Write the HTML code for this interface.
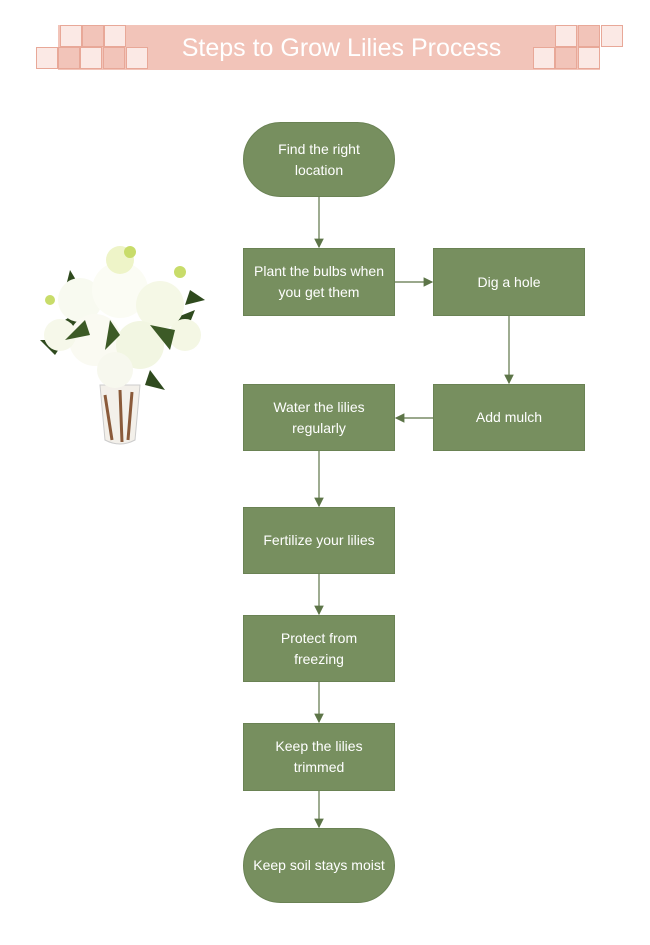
<!DOCTYPE html>
<html><head><style>
body{margin:0;background:#fff;width:650px;height:945px;position:relative;overflow:hidden;font-family:"Comic Sans MS","Liberation Sans",sans-serif}
.b{position:absolute;background:#778f5f;color:#fff;font-size:14px;display:flex;align-items:center;justify-content:center;text-align:center;line-height:21px;box-sizing:border-box;border:1px solid #6a8254}
.sq{position:absolute;width:22px;height:22px;box-sizing:border-box;border:1px solid #e8a898}
.l{background:#fbe9e5}.p{background:#f2c4b9}
</style></head><body>
<div style="position:absolute;left:58px;top:25px;width:542px;height:45px;background:#f2c4b9"></div>
<div class="sq l" style="left:60px;top:25px"></div><div class="sq p" style="left:82px;top:25px"></div><div class="sq l" style="left:104px;top:25px"></div>
<div class="sq l" style="left:36px;top:47px"></div><div class="sq p" style="left:58px;top:47px"></div><div class="sq l" style="left:80px;top:47px"></div><div class="sq p" style="left:103px;top:47px"></div><div class="sq l" style="left:126px;top:47px"></div>
<div class="sq l" style="left:555px;top:25px"></div><div class="sq p" style="left:578px;top:25px"></div><div class="sq l" style="left:601px;top:25px"></div>
<div class="sq l" style="left:533px;top:47px"></div><div class="sq p" style="left:555px;top:47px"></div><div class="sq l" style="left:578px;top:47px"></div>
<div style="position:absolute;left:150px;top:30px;width:383px;text-align:center;color:#fff;font-size:25px;line-height:36px">Steps to Grow Lilies Process</div>

<svg style="position:absolute;left:0;top:0" width="650" height="945">
<defs><marker id="a" markerWidth="8" markerHeight="8" refX="7" refY="4" orient="auto"><path d="M0,0L8,4L0,8z" fill="#5d7548"/></marker></defs>
<g stroke="#5d7548" stroke-width="1.2" fill="none" marker-end="url(#a)">
<line x1="319" y1="197" x2="319" y2="247"/>
<line x1="395" y1="282" x2="432" y2="282"/>
<line x1="509" y1="316" x2="509" y2="383"/>
<line x1="433" y1="418" x2="396" y2="418"/>
<line x1="319" y1="451" x2="319" y2="506"/>
<line x1="319" y1="574" x2="319" y2="614"/>
<line x1="319" y1="682" x2="319" y2="722"/>
<line x1="319" y1="791" x2="319" y2="827"/>
</g>
<g>
<path d="M100,385 L140,385 L135,440 Q120,448 105,440Z" fill="#f3f0ea" stroke="#ccc"/>
<path d="M105,395 L112,440 M120,390 L122,442 M132,392 L128,440" stroke="#8a5a3a" stroke-width="3"/>
<path d="M50,330 l30,-20 l-5,25z M170,320 l25,-10 l-10,25z M70,270 l15,25 l-20,-5z M150,370 l15,20 l-20,-5z M40,340 l25,0 l-10,15z M190,290 l15,10 l-20,5z" fill="#2f4a1e"/>
<circle cx="80" cy="300" r="22" fill="#f8faf0"/><circle cx="120" cy="290" r="28" fill="#fbfcf4"/><circle cx="160" cy="305" r="24" fill="#f5f8e6"/>
<circle cx="95" cy="340" r="26" fill="#fafaf2"/><circle cx="140" cy="345" r="24" fill="#f2f6e2"/><circle cx="60" cy="335" r="16" fill="#f6f8ea"/>
<circle cx="185" cy="335" r="16" fill="#f4f7e4"/><circle cx="115" cy="370" r="18" fill="#f7f8ee"/><circle cx="120" cy="260" r="14" fill="#eef4c8"/>
<path d="M85,320 l-20,20 l25,-5z M150,325 l20,25 l5,-20z M110,320 l-5,30 l15,-15z" fill="#3c5a26"/>
<circle cx="130" cy="252" r="6" fill="#c8dc6a"/><circle cx="180" cy="272" r="6" fill="#c8dc6a"/><circle cx="50" cy="300" r="5" fill="#c8dc6a"/>
</g>
</svg>

<div class="b" style="left:243px;top:122px;width:152px;height:75px;border-radius:38px">Find the right<br>location</div>
<div class="b" style="left:243px;top:248px;width:152px;height:68px">Plant the bulbs when<br>you get them</div>
<div class="b" style="left:433px;top:248px;width:152px;height:68px">Dig a hole</div>
<div class="b" style="left:433px;top:384px;width:152px;height:67px">Add mulch</div>
<div class="b" style="left:243px;top:384px;width:152px;height:67px">Water the lilies<br>regularly</div>
<div class="b" style="left:243px;top:507px;width:152px;height:67px">Fertilize your lilies</div>
<div class="b" style="left:243px;top:615px;width:152px;height:67px">Protect from<br>freezing</div>
<div class="b" style="left:243px;top:723px;width:152px;height:68px">Keep the lilies<br>trimmed</div>
<div class="b" style="left:243px;top:828px;width:152px;height:75px;border-radius:38px">Keep soil stays moist</div>
</body></html>
